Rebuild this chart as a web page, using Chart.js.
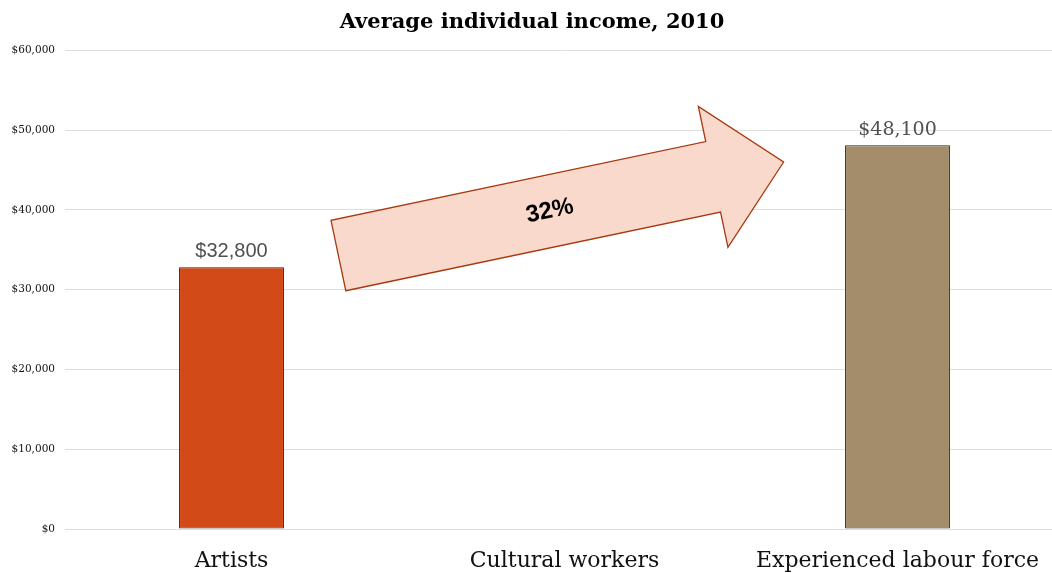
<!DOCTYPE html>
<html>
<head>
<meta charset="utf-8">
<title>Average individual income, 2010</title>
<script src="https://cdn.jsdelivr.net/npm/chart.js@4.4.1/dist/chart.umd.min.js"></script>
<style>
  html, body { margin: 0; padding: 0; background: #fff; overflow: hidden; }
  canvas { display: block; }
</style>
</head>
<body>
<canvas id="incomeChart" width="1064" height="573"></canvas>
<script>
// Chart data
const categories = ['Artists', 'Cultural workers', 'Experienced labour force'];
const incomes = [32800, null, 48100];
const yMin = 0;
const yMax = 60000;
const yStep = 10000;
const growthLabel = '32%';

// styles kept apart from the data
const serif = '"DejaVu Serif", serif';
const barColors = ['#D24A17', 'rgba(0,0,0,0)', '#A38D6B'];
const barBorders = ['#2e2018', 'rgba(0,0,0,0)', '#2e2820'];
const valueFonts = ['20px "Liberation Sans", Arial, sans-serif', '', '19px ' + serif];

// arrow annotation, anchored in data units (category index, dollars)
const arrowSpec = {
    from: { x: 0.321, y: 34270 },
    to: { x: 1.658, y: 45990 },
    shaftHalf: 36,
    headHalf: 72,
    headLength: 72,
    textAt: 0.475
};

function money(v) {
    return '$' + v.toLocaleString('en-US');
}

// draws "$32,800" etc. above each bar
const valueLabels = {
    id: 'valueLabels',
    afterDatasetsDraw(chart) {
        const ctx = chart.ctx;
        const meta = chart.getDatasetMeta(0);
        ctx.save();
        ctx.fillStyle = '#505050';
        ctx.textAlign = 'center';
        ctx.textBaseline = 'alphabetic';
        meta.data.forEach((bar, i) => {
            const v = incomes[i];
            if (v === null) return;
            ctx.font = valueFonts[i];
            ctx.fillText(money(v), bar.x, bar.y - 10);
        });
        ctx.restore();
    }
};

// the big pale arrow with the percentage on it
const growthArrow = {
    id: 'growthArrow',
    afterDatasetsDraw(chart) {
        const xs = chart.scales.x;
        const ys = chart.scales.y;
        const tx = xs.getPixelForValue(arrowSpec.from.x);
        const ty = ys.getPixelForValue(arrowSpec.from.y);
        const px = xs.getPixelForValue(arrowSpec.to.x);
        const py = ys.getPixelForValue(arrowSpec.to.y);
        const len = Math.hypot(px - tx, py - ty);
        const ux = (px - tx) / len, uy = (py - ty) / len;
        const nx = -uy, ny = ux;
        const bx = px - ux * arrowSpec.headLength;
        const by = py - uy * arrowSpec.headLength;
        const s = arrowSpec.shaftHalf, h = arrowSpec.headHalf;

        const ctx = chart.ctx;
        ctx.save();
        ctx.beginPath();
        ctx.moveTo(tx + nx * s, ty + ny * s);
        ctx.lineTo(bx + nx * s, by + ny * s);
        ctx.lineTo(bx + nx * h, by + ny * h);
        ctx.lineTo(px, py);
        ctx.lineTo(bx - nx * h, by - ny * h);
        ctx.lineTo(bx - nx * s, by - ny * s);
        ctx.lineTo(tx - nx * s, ty - ny * s);
        ctx.closePath();
        ctx.fillStyle = '#F8D9CC';
        ctx.fill();
        ctx.lineWidth = 1.3;
        ctx.strokeStyle = '#A8380F';
        ctx.lineJoin = 'miter';
        ctx.stroke();

        // label along the shaft
        const cx = tx + (px - tx) * arrowSpec.textAt;
        const cy = ty + (py - ty) * arrowSpec.textAt;
        ctx.translate(cx, cy);
        ctx.rotate(Math.atan2(py - ty, px - tx));
        ctx.fillStyle = '#000';
        ctx.font = 'bold 24px "Liberation Sans", Arial, sans-serif';
        ctx.textAlign = 'center';
        ctx.textBaseline = 'middle';
        ctx.fillText(growthLabel, 0, 0);
        ctx.restore();
    }
};

const ctx = document.getElementById('incomeChart').getContext('2d');

const incomeChart = new Chart(ctx, {
    type: 'bar',
    data: {
        labels: categories,
        datasets: [{
            data: incomes,
            backgroundColor: barColors,
            borderColor: barBorders,
            borderWidth: 1,
            borderSkipped: false,
            categoryPercentage: 1,
            barPercentage: 0.315
        }]
    },
    options: {
        responsive: false,
        animation: false,
        layout: { padding: 0 },
        plugins: {
            legend: { display: false },
            tooltip: { enabled: false },
            title: {
                display: true,
                text: 'Average individual income, 2010',
                color: '#000',
                font: { family: serif, size: 21, weight: 'bold' },
                padding: { top: 10, bottom: 15 }
            }
        },
        scales: {
            x: {
                grid: { display: false },
                border: { display: false },
                ticks: {
                    color: '#111',
                    padding: 11,
                    maxRotation: 0,
                    autoSkip: false,
                    font: { family: serif, size: 22 }
                },
                afterFit(scale) { scale.height = 44; }
            },
            y: {
                min: yMin,
                max: yMax,
                grid: { color: '#dedede', drawTicks: false, lineWidth: 1 },
                border: { display: false },
                ticks: {
                    stepSize: yStep,
                    color: '#111',
                    padding: 10,
                    font: { family: serif, size: 10.5 },
                    callback: (v) => money(v)
                },
                afterFit(scale) { scale.width = 65; }
            }
        }
    },
    plugins: [growthArrow, valueLabels]
});
</script>
</body>
</html>
